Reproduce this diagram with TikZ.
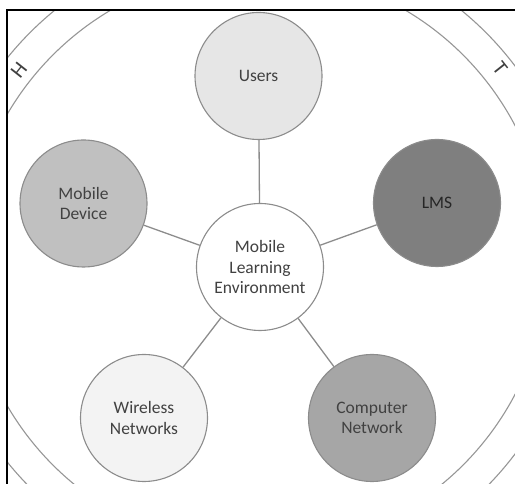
\documentclass[tikz,border=0pt]{standalone}
\usepackage{fontspec}
\setmainfont{Carlito}
\definecolor{ringgray}{RGB}{150,150,150}
\definecolor{edgegray}{RGB}{140,140,140}
\definecolor{txtgray}{RGB}{65,65,65}
\definecolor{fillusers}{RGB}{230,230,230}
\definecolor{filldevice}{RGB}{192,192,192}
\definecolor{filllms}{RGB}{127,127,127}
\definecolor{fillwireless}{RGB}{243,243,243}
\definecolor{fillcomputer}{RGB}{166,166,166}
\tikzset{
  hub/.style={circle, draw=edgegray, line width=1.1pt, minimum size=127pt, inner sep=0pt,
    align=center, text=txtgray, font=\fontsize{17.5}{20.5}\selectfont},
  link/.style={draw=edgegray, line width=1.3pt},
  ring/.style={draw=ringgray, line width=1.1pt},
  ringletter/.style={text=black!75, font=\fontsize{21}{21}\selectfont, inner sep=0pt},
  frameline/.style={draw=black, line width=2.2pt}
}
\begin{document}
\begin{tikzpicture}[x=1pt, y=1pt]
\useasboundingbox (0,0) rectangle (515,484);
\begin{scope}
\clip (7,0) rectangle (515,474);
\draw[ring] (258,224) circle[radius=290];
\draw[ring] (258,224) circle[radius=322];
\end{scope}
\node[ringletter, rotate=51.6] (h) at (19,414) {H};
\node[ringletter, rotate=-51.6] (t) at (500,416) {T};

\node[hub, fill=white] (mle) at (260,217) {Mobile\\Learning\\Environment};
\node[hub, fill=fillusers] (users) at (258.5,408) {Users};
\node[hub, fill=filldevice] (device) at (83.5,280.5) {Mobile\\Device};
\node[hub, fill=filllms, text=black!85] (lms) at (437,281) {LMS};
\node[hub, fill=fillwireless] (wireless) at (144,66) {Wireless\\Networks};
\node[hub, fill=fillcomputer] (computer) at (372,66) {Computer\\Network};

\draw[link] (users) -- (mle);
\draw[link] (device) -- (mle);
\draw[link] (lms) -- (mle);
\draw[link] (wireless) -- (mle);
\draw[link] (computer) -- (mle);

\draw[frameline] (7,0) -- (7,474) -- (515,474);
\end{tikzpicture}
\end{document}
